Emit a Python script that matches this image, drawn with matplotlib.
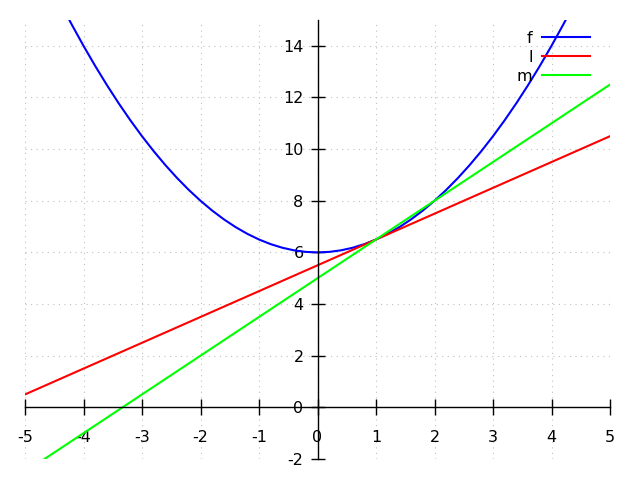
import matplotlib
matplotlib.use("Agg")
import matplotlib.pyplot as plt

x_f = [-4.3, -4.2, -4.0, -3.8, -3.6, -3.4, -3.2, -3.0, -2.8, -2.6, -2.4, -2.2, -2.0,
       -1.8, -1.6, -1.4, -1.2, -1.0, -0.8, -0.6, -0.4, -0.2, 0.0,
       0.2, 0.4, 0.6, 0.8, 1.0, 1.2, 1.4, 1.6, 1.8, 2.0, 2.2, 2.4, 2.6, 2.8,
       3.0, 3.2, 3.4, 3.6, 3.8, 4.0, 4.2, 4.3]
y_f = [15.245, 14.82, 14.0, 13.22, 12.48, 11.78, 11.12, 10.5, 9.92, 9.38, 8.88, 8.42, 8.0,
       7.62, 7.28, 6.98, 6.72, 6.5, 6.32, 6.18, 6.08, 6.02, 6.0,
       6.02, 6.08, 6.18, 6.32, 6.5, 6.72, 6.98, 7.28, 7.62, 8.0, 8.42, 8.88, 9.38, 9.92,
       10.5, 11.12, 11.78, 12.48, 13.22, 14.0, 14.82, 15.245]
# line l
x_l = [-5, 5]
y_l = [0.5, 10.5]
# line m
x_m = [-5, 5]
y_m = [-2.5, 12.5]

x_ticks = [-5, -4, -3, -2, -1, 0, 1, 2, 3, 4, 5]
y_ticks = [-2, 0, 2, 4, 6, 8, 10, 12, 14]

plt.rcParams['font.family'] = ['DejaVu Sans']
fig = plt.figure(figsize=(6.4, 4.8), dpi=100)
W, H = 640, 480
ax = fig.add_axes([25 / W, (H - 459) / H, (610 - 25) / W, (459 - 20) / H])
ax.set_xlim(-5, 5)
ax.set_ylim(-2, 15)

for s in ['top', 'right']:
    ax.spines[s].set_visible(False)
ax.spines['left'].set_position(('data', 0))
ax.spines['bottom'].set_position(('data', 0))
ax.spines['left'].set_linewidth(1.0)
ax.spines['bottom'].set_linewidth(1.0)

ax.set_xticks(x_ticks)
ax.set_yticks(y_ticks)
ax.set_xticklabels([str(v) for v in x_ticks])
ax.set_yticklabels([str(v) for v in y_ticks])
ax.tick_params(axis='x', direction='inout', length=12, width=1.0, pad=10, labelsize=11.5)
ax.tick_params(axis='y', direction='inout', length=10, width=1.0, pad=5, labelsize=11.5)

ax.grid(True, color='#c0c0c0', linestyle=(0, (1, 4)), linewidth=0.8)
ax.set_axisbelow(True)

ax.plot(x_f, y_f, color='#0000ff', lw=1.5, label='f')
ax.plot(x_l, y_l, color='#ff0000', lw=1.5, label='l')
ax.plot(x_m, y_m, color='#00ff00', lw=1.5, label='m')

ax.legend(loc='upper right', bbox_to_anchor=(590 / W, (H - 31) / H),
          bbox_transform=fig.transFigure, frameon=False, markerfirst=False,
          fontsize=11.5, handlelength=3.0, handletextpad=0.6, labelspacing=0.25,
          borderpad=0, borderaxespad=0)

fig.savefig('out.png', dpi=100)
